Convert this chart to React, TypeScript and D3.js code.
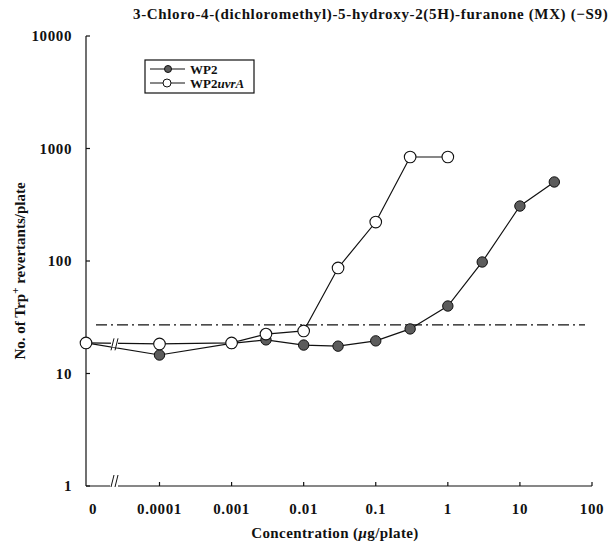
import React from "react";
import * as d3 from "d3";

const titleText = "3-Chloro-4-(dichloromethyl)-5-hydroxy-2(5H)-furanone (MX) (\u2212S9)";

// concentration in ug/plate (0 = solvent control)
const doses = [0, 0.0001, 0.001, 0.003, 0.01, 0.03, 0.1, 0.3, 1, 3, 10, 30];
const wp2Values = [18.7, 14.6, 18.5, 19.9, 17.9, 17.5, 19.5, 24.9, 39.8, 98, 308, 504];

const uvrDoses = [0, 0.0001, 0.001, 0.003, 0.01, 0.03, 0.1, 0.3, 1];
const uvrValues = [18.7, 18.3, 18.7, 22.4, 23.9, 86.7, 222, 840, 840];

const xTicks = [0, 0.0001, 0.001, 0.01, 0.1, 1, 10, 100];
const xTickLabels = ["0", "0.0001", "0.001", "0.01", "0.1", "1", "10", "100"];
const yTicks = [1, 10, 100, 1000, 10000];
const yTickLabels = ["1", "10", "100", "1000", "10000"];

const threshold = 27;

const width = 608;
const height = 545;
const left = 86;
const right = 592;
const top = 36;
const bottom = 486;
const font = "'Liberation Serif', 'Times New Roman', serif";

export default function App() {
  const xLog = d3.scaleLog().domain([0.0001, 100]).range([159.5, right]);
  // the zero dose sits on the y axis, one broken decade left of 0.0001
  const x = (d: number) => (d === 0 ? left : xLog(d));
  const y = d3.scaleLog().domain([1, 10000]).range([bottom, top]);

  const line = d3
    .line<[number, number]>()
    .x((d) => x(d[0]))
    .y((d) => y(d[1]));

  const wp2 = doses.map((d, i) => [d, wp2Values[i]] as [number, number]);
  const uvr = uvrDoses.map((d, i) => [d, uvrValues[i]] as [number, number]);

  const breakX = 115;
  const breakY = y(uvrValues[0]) + ((y(uvrValues[1]) - y(uvrValues[0])) * (breakX - x(0))) / (x(0.0001) - x(0)) + 1;

  const slash = (cx: number, cy: number, key: string) => (
    <g key={key} stroke="#111" strokeWidth={1}>
      <line x1={cx - 4} y1={cy + 6} x2={cx - 1} y2={cy - 6} />
      <line x1={cx} y1={cy + 6} x2={cx + 3} y2={cy - 6} />
    </g>
  );

  return (
    <svg width={width} height={height} style={{ position: "absolute", left: 0, top: 0, background: "#fff" }} fontFamily={font}>
      <rect width={width} height={height} fill="#fff" />
      <text x={133} y={19} fontSize={15} letterSpacing={0.65} fontWeight="bold" fill="#111">
        {titleText}
      </text>

      {/* axes */}
      <g stroke="#111" strokeWidth={1.2} fill="none">
        <line x1={left} y1={top} x2={left} y2={bottom} />
        <line x1={left} y1={bottom} x2={right} y2={bottom} />
        {yTicks.map((t) => (
          <line key={"yt" + t} x1={left} x2={left + 4} y1={y(t)} y2={y(t)} />
        ))}
        {xTicks.filter((t) => t > 0).map((t) => (
          <line key={"xt" + t} x1={xLog(t)} x2={xLog(t)} y1={bottom} y2={bottom - 4} />
        ))}
      </g>
      <rect x={breakX - 5} y={bottom - 1} width={8} height={2} fill="#fff" />
      {slash(breakX, bottom - 5, "xb")}

      {yTicks.map((t, i) => (
        <text key={"yl" + t} x={72} y={y(t)} dy="0.35em" textAnchor="end" fontSize={15} letterSpacing={0.6} fontWeight="bold" fill="#111">
          {yTickLabels[i]}
        </text>
      ))}
      {xTicks.map((t, i) => (
        <text key={"xl" + t} x={t === 0 ? x(t) + 7 : x(t)} y={514} textAnchor="middle" fontSize={15} letterSpacing={0.6} fontWeight="bold" fill="#111">
          {xTickLabels[i]}
        </text>
      ))}

      <text x={335} y={538} textAnchor="middle" fontSize={15} letterSpacing={0.4} fontWeight="bold" fill="#111">
        Concentration (<tspan fontStyle="italic">{"\u03bc"}</tspan>g/plate)
      </text>
      <text transform={`translate(25, 271) rotate(-90)`} textAnchor="middle" fontSize={15} fontWeight="bold" fill="#111">
        No. of Trp<tspan dy={-6} fontSize={11}>+</tspan>
        <tspan dy={6}> revertants/plate</tspan>
      </text>

      {/* 2x spontaneous line */}
      <line x1={left + 10} x2={right - 7} y1={y(threshold)} y2={y(threshold)} stroke="#111" strokeWidth={1.2} strokeDasharray="11,4,2,4" />

      <path d={line(wp2) || ""} fill="none" stroke="#111" strokeWidth={1.2} />
      <path d={line(uvr) || ""} fill="none" stroke="#111" strokeWidth={1.2} />
      <rect x={breakX - 4} y={breakY - 3} width={7} height={6} fill="#fff" />
      {slash(breakX, breakY, "db")}

      {wp2.map((d, i) => (
        <circle key={"w" + i} cx={x(d[0])} cy={y(d[1])} r={5.2} fill="#5c5c5c" stroke="#111" strokeWidth={1} />
      ))}
      {uvr.map((d, i) => (
        <circle key={"u" + i} cx={x(d[0])} cy={y(d[1])} r={5.8} fill="#fff" stroke="#111" strokeWidth={1.1} />
      ))}

      {/* legend */}
      <rect x={145} y={60} width={109} height={33} fill="#fff" stroke="#111" strokeWidth={1.2} />
      <line x1={150} x2={185} y1={69} y2={69} stroke="#111" strokeWidth={1.2} />
      <circle cx={168} cy={69} r={3.5} fill="#5c5c5c" stroke="#111" strokeWidth={1} />
      <text x={190} y={69} dy="0.35em" fontSize={13} fontWeight="bold" fill="#111">WP2</text>
      <line x1={150} x2={185} y1={83} y2={83} stroke="#111" strokeWidth={1} />
      <circle cx={167} cy={83} r={4} fill="#fff" stroke="#111" strokeWidth={1} />
      <text x={190} y={83} dy="0.35em" fontSize={13} fontWeight="bold" fill="#111">
        WP2<tspan fontStyle="italic">uvrA</tspan>
      </text>
    </svg>
  );
}
